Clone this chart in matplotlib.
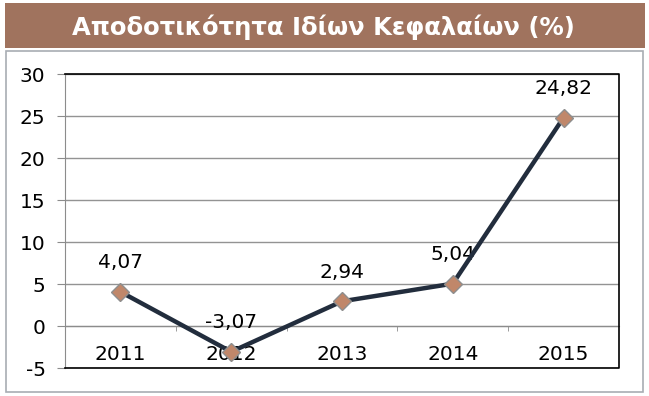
import matplotlib
matplotlib.use("Agg")
import matplotlib.pyplot as plt
from matplotlib.patches import Rectangle

years = ["2011", "2012", "2013", "2014", "2015"]
roe = [4.07, -3.07, 2.94, 5.04, 24.82]
yticks = [-5, 0, 5, 10, 15, 20, 25, 30]
title = "Αποδοτικότητα Ιδίων Κεφαλαίων (%)"

W, H = 649, 396
plt.rcParams['font.family'] = ['DejaVu Sans']
fig = plt.figure(figsize=(W / 100, H / 100), dpi=100)
fig.patch.set_facecolor('white')

def fx(px):
    return px / W

def fy(py):
    return 1 - py / H

# title band
fig.patches.append(Rectangle((fx(5), fy(48)), fx(640), 45 / H, transform=fig.transFigure,
                             facecolor='#A0735E', edgecolor='none', zorder=0))
fig.text(fx(323), fy(27), title, color='white', fontsize=17.5, fontweight='bold',
         ha='center', va='center')
# outer chart border
fig.patches.append(Rectangle((fx(6), fy(392)), fx(637), 341 / H, transform=fig.transFigure,
                             facecolor='none', edgecolor='#A8ADB3', linewidth=1.2, zorder=0))

ax = fig.add_axes([fx(65), fy(368), fx(619 - 65), (368 - 74) / H])
ax.set_xlim(0, len(years))
ax.set_ylim(-5, 30)
x = [i + 0.5 for i in range(len(years))]

ax.set_yticks(yticks)
ax.set_yticklabels([str(v) for v in yticks])
ax.yaxis.grid(True, color='#939393', linewidth=1.0)
ax.set_axisbelow(True)

ax.spines['left'].set_color('#8C8C8C')
ax.spines['top'].set_visible(False)
ax.spines['right'].set_visible(False)
ax.spines['bottom'].set_position(('data', 0))
ax.spines['bottom'].set_color('#8C8C8C')
ax.plot([0, 1, 1, 0], [0, 0, 1, 1], transform=ax.transAxes, color='black',
        linewidth=1.2, clip_on=False, zorder=5)

ax.tick_params(axis='y', direction='out', length=6, color='#8C8C8C', pad=8,
               labelsize=14.5, labelcolor='black')
ax.set_xticks(x)
ax.set_xticklabels(years)
ax.set_xticks([1, 2, 3, 4], minor=True)
ax.tick_params(axis='x', which='major', length=0, pad=13.5, labelsize=14.5)
ax.tick_params(axis='x', which='minor', direction='out', length=3.5, color='#8C8C8C')

ax.plot(x, roe, color='#222D3D', linewidth=3.2, marker='D', markersize=9,
        markerfacecolor='#C0876A', markeredgecolor='#8E8E8E', markeredgewidth=1.0,
        zorder=4, clip_on=False)

for xi, v in zip(x, roe):
    ax.annotate(f"{v:.2f}".replace('.', ','), (xi, v), xytext=(0, 21),
                textcoords='offset points', ha='center', va='center', fontsize=14.5)

fig.savefig('out.png', dpi=100)
